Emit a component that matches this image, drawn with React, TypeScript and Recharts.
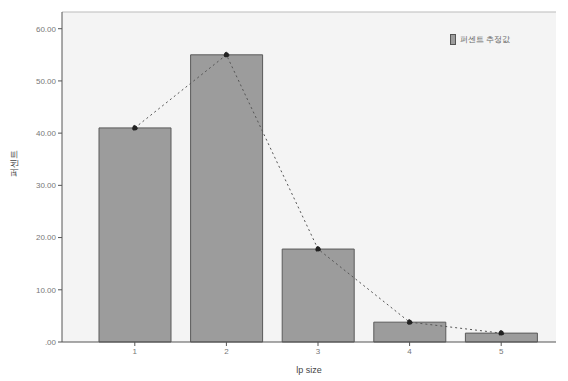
import {
  ComposedChart,
  Bar,
  Line,
  XAxis,
  YAxis,
  CartesianGrid,
  ReferenceLine,
} from "recharts";

const sizes = ["1", "2", "3", "4", "5"];
const percents = [41.0, 55.0, 17.8, 3.8, 1.7];
const yTicks = [0, 10, 20, 30, 40, 50, 60];

const data = sizes.map((s, i) => ({ size: s, pct: percents[i] }));

const fmt = (v: number) => (v === 0 ? ".00" : v.toFixed(2));

export default function App() {
  return (
    <div
      style={{
        position: "fixed",
        left: 0,
        top: 0,
        width: 568,
        height: 381,
        background: "#fff",
        fontFamily: "Liberation Sans",
      }}
    >
      <ComposedChart
        width={568}
        height={381}
        data={data}
        margin={{ top: 12, right: 12, left: 0, bottom: 4 }}
        barCategoryGap={10}
      >
        <CartesianGrid
          horizontal={false}
          vertical={false}
          fill="#f4f4f4"
          stroke="none"
        />
        <ReferenceLine y={63.2} stroke="#bbb" />
        <XAxis
          dataKey="size"
          height={35}
          padding={{ left: 27, right: 9 }}
          stroke="#555"
          tick={{ fontSize: 8, fill: "#777" }}
          tickSize={4}
          label={{
            value: "lp size",
            position: "insideBottom",
            offset: 4,
            fontSize: 9,
            fill: "#444",
          }}
        />
        <YAxis
          width={62}
          domain={[0, 63.2]}
          ticks={yTicks}
          tickFormatter={fmt}
          stroke="#555"
          tick={{ fontSize: 8, fill: "#777" }}
          tickSize={4}
          label={{
            value: "퍼센트",
            angle: -90,
            position: "insideLeft",
            offset: 14,
            fontSize: 9,
            fill: "#444",
          }}
        />
        <Bar
          dataKey="pct"
          fill="#9c9c9c"
          stroke="#5a5a5a"
          isAnimationActive={false}
        />
        <Line
          dataKey="pct"
          stroke="#555"
          strokeWidth={1}
          strokeDasharray="2 3"
          dot={{ r: 2.5, fill: "#222", stroke: "#222" }}
          isAnimationActive={false}
        />
      </ComposedChart>
      <div
        style={{
          position: "absolute",
          left: 450,
          top: 34,
          display: "flex",
          alignItems: "center",
          gap: 4,
          fontSize: 8,
          color: "#666",
        }}
      >
        <span
          style={{
            display: "inline-block",
            width: 4,
            height: 9,
            background: "#9c9c9c",
            border: "1px solid #555",
          }}
        />
        <span>퍼센트 추정값</span>
      </div>
    </div>
  );
}
